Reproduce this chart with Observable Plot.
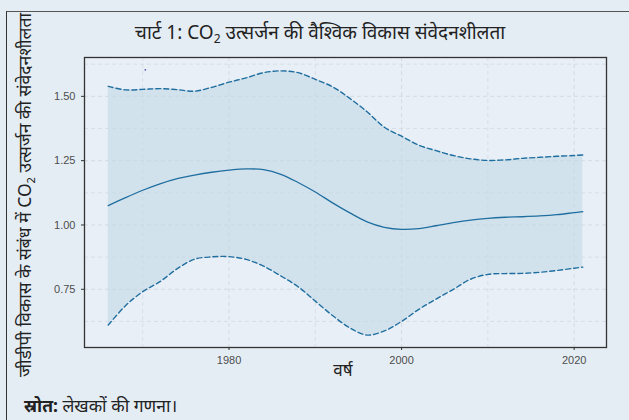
<!DOCTYPE html>
<html>
<head>
<meta charset="utf-8">
<script src="https://cdn.jsdelivr.net/npm/d3@7"></script>
<script src="https://cdn.jsdelivr.net/npm/@observablehq/plot@0.6"></script>
<style>
  html, body { margin: 0; padding: 0; background: #e5edf4; }
  #wrap { position: relative; width: 629px; height: 420px; overflow: hidden; background: #e5edf4; font-family: "Noto Sans", "Liberation Sans", sans-serif; }
  #box { position: absolute; left: 6px; top: 11px; width: 640px; height: 420px; border-left: 1.5px solid #333; border-top: 1.5px solid #555; }
  #chart { position: absolute; left: 0; top: 0; }
  #title { position: absolute; left: 320px; top: 33px; transform: translate(-50%, -50%); font-size: 19px; color: #222; white-space: nowrap; }
  #title sub { font-size: 12px; }
  #ytitle { position: absolute; left: 25px; top: 195px; transform: translate(-50%, -50%) rotate(-90deg); font-size: 17.5px; color: #222; white-space: nowrap; }
  #ytitle sub { font-size: 11px; }
  #xtitle { position: absolute; left: 343px; top: 369px; transform: translate(-50%, -50%); font-size: 17px; color: #222; }
  #source { position: absolute; left: 24px; top: 405px; transform: translateY(-50%); font-size: 17.5px; color: #222; white-space: nowrap; }
</style>
</head>
<body>
<div id="wrap">
  <div id="box"></div>
  <div id="chart"></div>
  <div id="title">चार्ट 1: CO<sub>2</sub> उत्सर्जन की वैश्विक विकास संवेदनशीलता</div>
  <div id="ytitle">जीडीपी विकास के संबंध में CO<sub>2</sub> उत्सर्जन की संवेदनशीलता</div>
  <div id="xtitle">वर्ष</div>
  <div id="source"><b>स्रोत:</b> लेखकों की गणना।</div>
</div>
<script>
const years = [1966,1968,1970,1972,1974,1976,1978,1980,1982,1984,1986,1988,1990,1992,1994,1996,1998,2000,2002,2004,2006,2008,2010,2012,2014,2016,2018,2020,2021];
const estimate = [1.075,1.106,1.135,1.160,1.180,1.194,1.205,1.213,1.218,1.215,1.197,1.165,1.128,1.086,1.047,1.012,0.991,0.983,0.986,0.997,1.009,1.019,1.026,1.030,1.032,1.035,1.040,1.048,1.052];
const upper = [1.539,1.525,1.527,1.530,1.526,1.520,1.535,1.555,1.572,1.592,1.599,1.592,1.566,1.537,1.492,1.440,1.380,1.345,1.310,1.289,1.270,1.257,1.251,1.253,1.259,1.263,1.267,1.270,1.272];
const lower = [0.611,0.686,0.741,0.780,0.830,0.867,0.876,0.877,0.866,0.840,0.802,0.760,0.704,0.648,0.600,0.572,0.588,0.625,0.672,0.712,0.750,0.789,0.808,0.811,0.812,0.816,0.823,0.832,0.836];
const strayPoint = [{year: 1970.3, value: 1.603}];
const xMajor = [1980, 2000, 2020];
const xMinor = [1970, 1990, 2010];
const yMajor = [0.75, 1.00, 1.25, 1.50];
const yMinor = [0.625, 0.875, 1.125, 1.375, 1.625];

const data = years.map((y, i) => ({year: y, est: estimate[i], lo: lower[i], hi: upper[i]}));
const lineColor = "#1f6ea0";
const gridColor = "#d3dbe3";

const chart = Plot.plot({
  width: 629,
  height: 420,
  marginLeft: 84,
  marginRight: 23,
  marginTop: 57,
  marginBottom: 73,
  style: {background: "transparent", fontFamily: "Liberation Sans, Arial, sans-serif", fontSize: "11px", color: "#4d4d4d"},
  x: {domain: [1963.25, 2023.75], ticks: xMajor, tickFormat: d => String(d), tickSize: 3, label: null},
  y: {domain: [0.5237, 1.651], ticks: yMajor, tickFormat: d => d.toFixed(2), tickSize: 3, label: null},
  marks: [
    Plot.frame({fill: "#e8eff6"}),
    Plot.ruleX(xMinor, {stroke: gridColor, strokeDasharray: "4,3", strokeWidth: 0.8}),
    Plot.ruleY(yMinor, {stroke: gridColor, strokeDasharray: "4,3", strokeWidth: 0.8}),
    Plot.ruleX(xMajor, {stroke: gridColor, strokeDasharray: "4,3", strokeWidth: 1}),
    Plot.ruleY(yMajor, {stroke: gridColor, strokeDasharray: "4,3", strokeWidth: 1}),
    Plot.areaY(data, {x: "year", y1: "lo", y2: "hi", fill: "#c3d8e6", fillOpacity: 0.6, curve: "catmull-rom"}),
    Plot.lineY(data, {x: "year", y: "hi", stroke: lineColor, strokeWidth: 1.4, strokeDasharray: "5,3", curve: "catmull-rom"}),
    Plot.lineY(data, {x: "year", y: "lo", stroke: lineColor, strokeWidth: 1.4, strokeDasharray: "5,3", curve: "catmull-rom"}),
    Plot.lineY(data, {x: "year", y: "est", stroke: lineColor, strokeWidth: 1.3, curve: "catmull-rom"}),
    Plot.dot(strayPoint, {x: "year", y: "value", r: 0.9, fill: "#5a5aa8", stroke: null}),
    Plot.axisX({ticks: xMajor, tickFormat: d => String(d), tickSize: 3, stroke: "#333", fill: "#4d4d4d", label: null}),
    Plot.axisY({ticks: yMajor, tickFormat: d => d.toFixed(2), tickSize: 3, stroke: "#333", fill: "#4d4d4d", label: null}),
    Plot.frame({stroke: "#333", strokeWidth: 1.3})
  ]
});
document.getElementById("chart").appendChild(chart);
</script>
</body>
</html>
